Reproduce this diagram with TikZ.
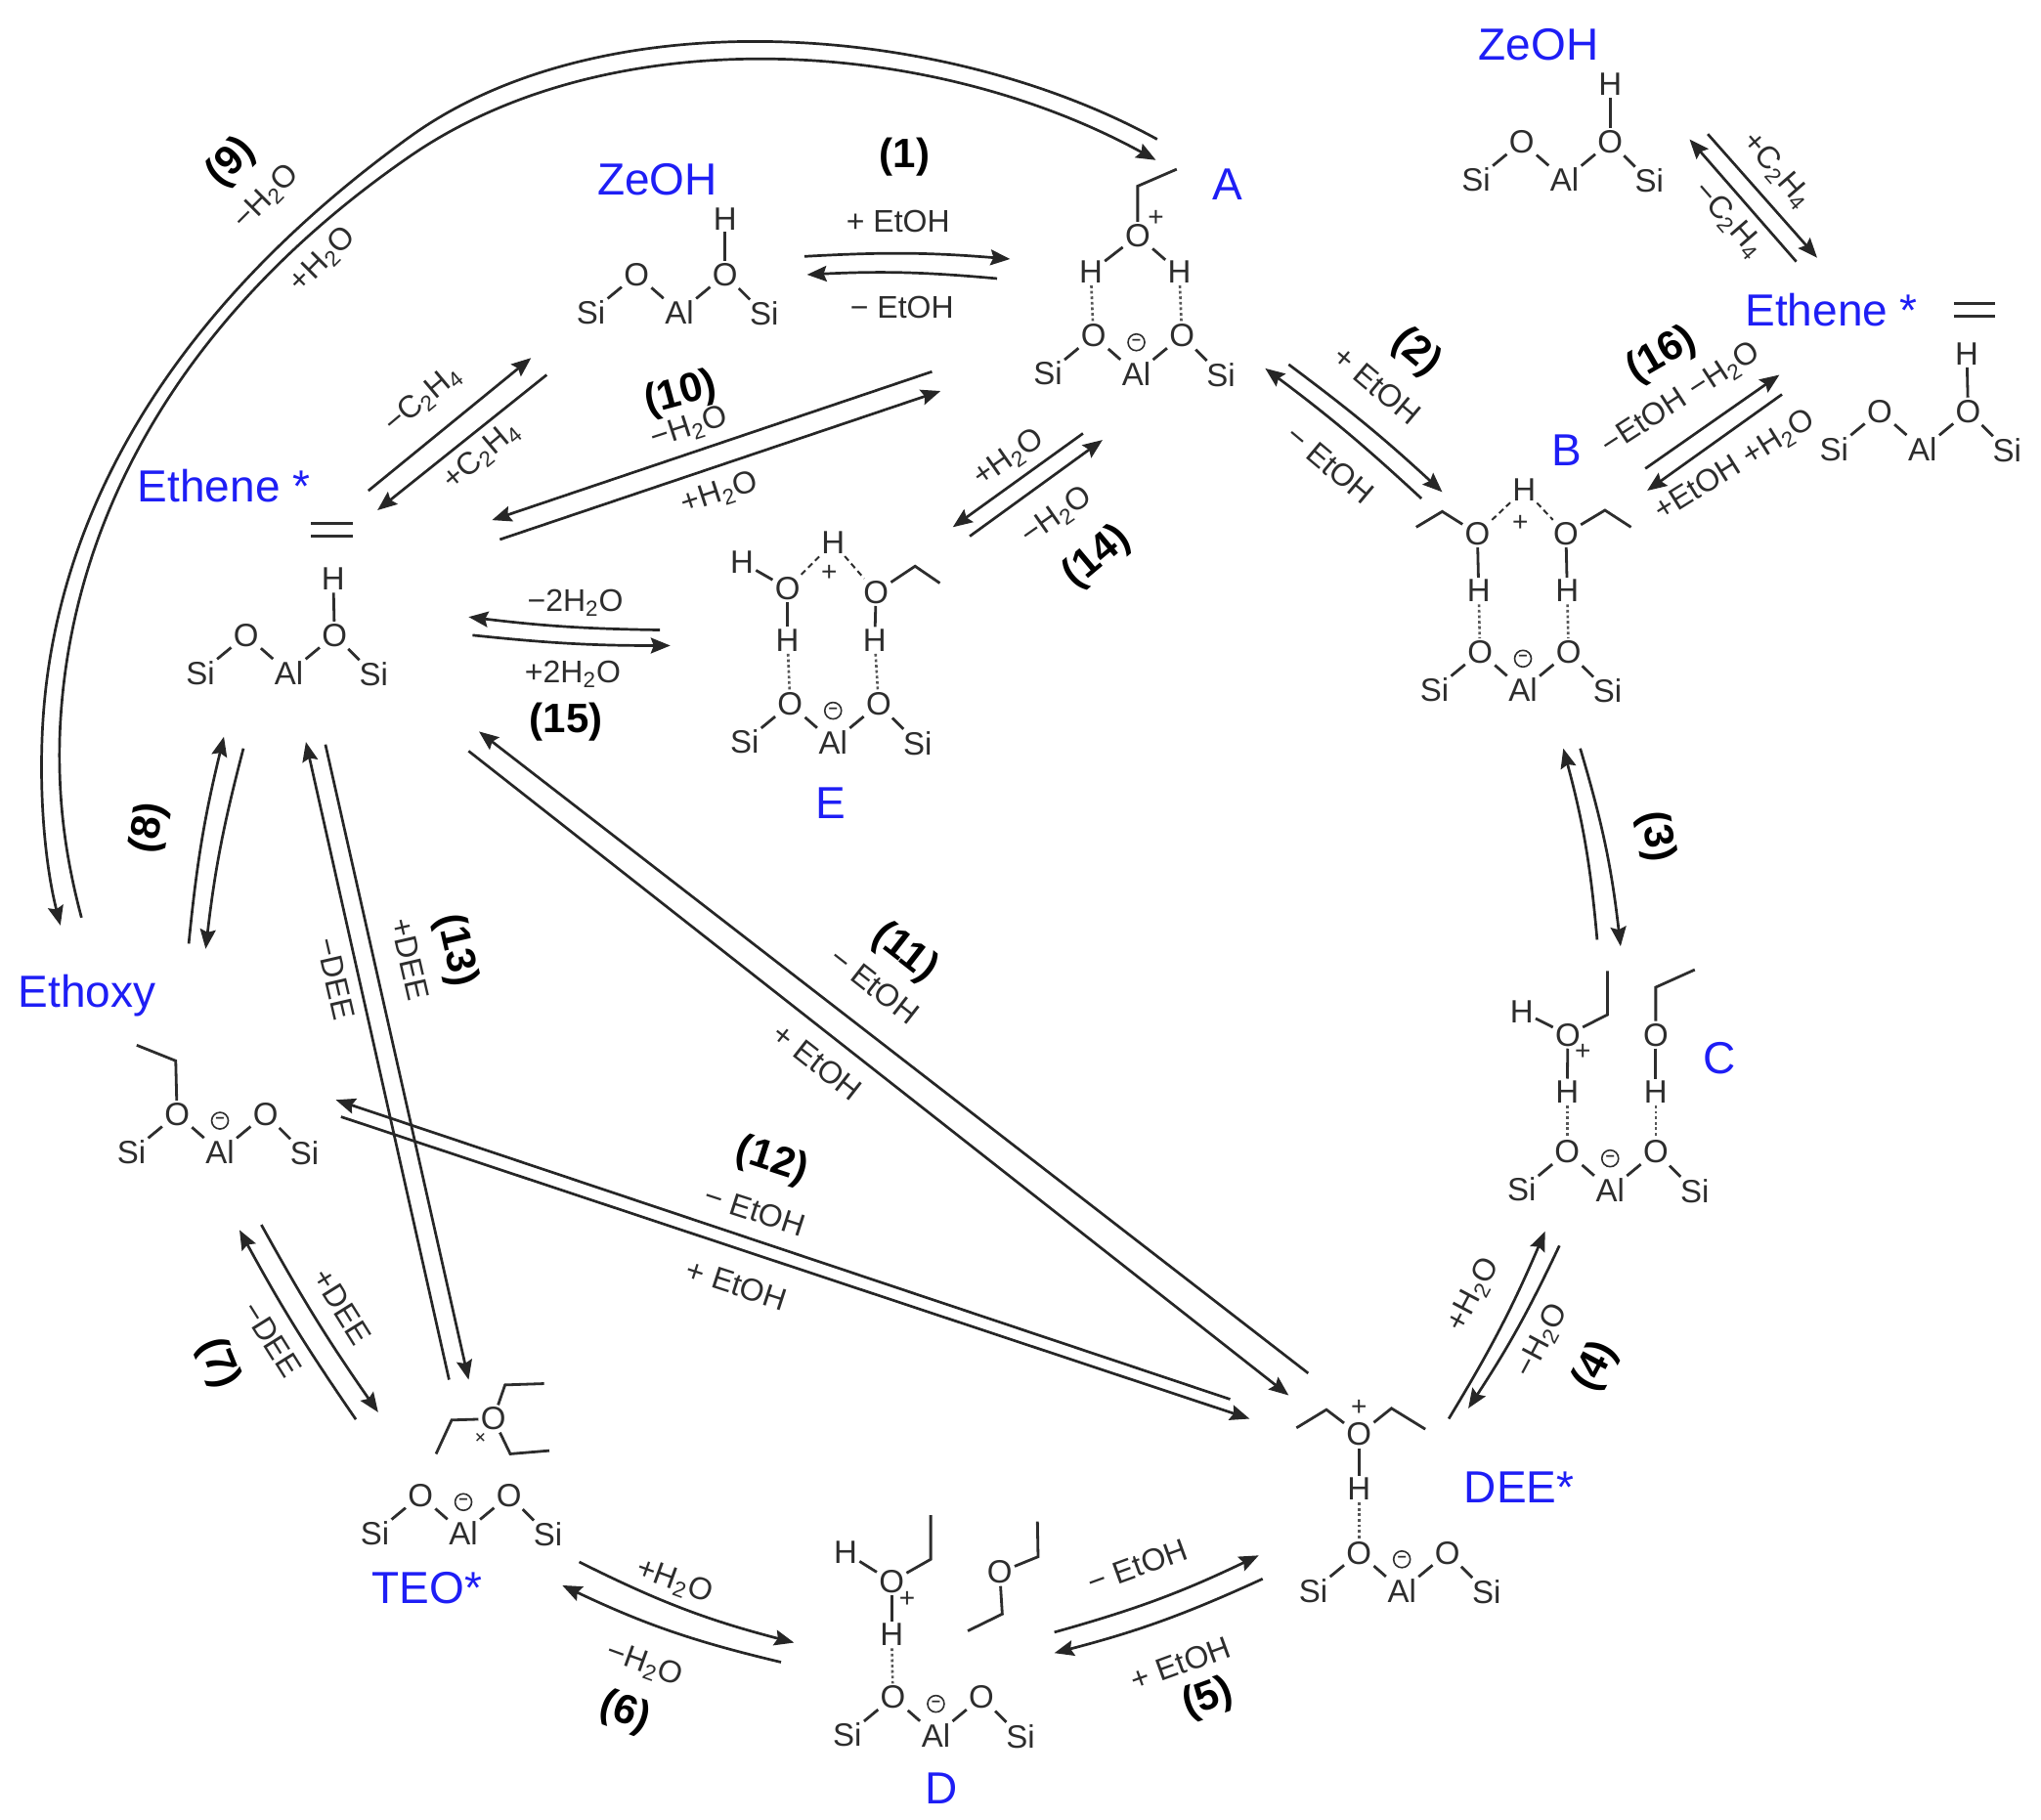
\documentclass[tikz,border=0pt]{standalone}
\usepackage{fontspec}
\setmainfont{Liberation Sans}
\usetikzlibrary{arrows.meta}
\definecolor{ink}{RGB}{45,45,45}
\definecolor{lblue}{RGB}{30,30,245}
\tikzset{
  atom/.style={font=\fontsize{16.5}{18}\selectfont,text=ink,inner sep=1pt},
  bond/.style={draw=ink,line width=1.4pt},
  hbond/.style={draw=ink!80,line width=1.3pt,dash pattern=on 1.4pt off 1.4pt},
  hdash/.style={draw=ink,line width=1pt,dash pattern=on 3pt off 2pt},
  plusq/.style={font=\fontsize{14}{14}\selectfont,text=ink,inner sep=0pt},
  minusq/.style={circle,draw=ink,line width=.8pt,minimum size=8.5pt,inner sep=0pt,font=\fontsize{8}{8}\selectfont\bfseries,text=ink},
  rxn/.style={draw=black!85,line width=1.35pt,-{Stealth[length=10pt,width=8pt,inset=1.5pt]}},
  smalllab/.style={font=\fontsize{16}{18}\selectfont,text=ink,inner sep=0pt},
  numlab/.style={font=\fontsize{21}{24}\selectfont\bfseries,text=black,inner sep=0pt},
  bluelab/.style={font=\fontsize{23}{26}\selectfont,text=lblue,inner sep=0pt},
}
\newcommand\zeo[3]{\begin{scope}[shift={(#2,#3)}]
  \node[atom] (#1si1) at (-68,0) {Si};
  \node[atom] (#1o1) at (-33,-29) {O};
  \node[atom] (#1al) at (0,0) {Al};
  \node[atom] (#1o2) at (35,-29) {O};
  \node[atom] (#1si2) at (65,1) {Si};
  \draw[bond] (#1si1)--(#1o1);\draw[bond] (#1o1)--(#1al);
  \draw[bond] (#1al)--(#1o2);\draw[bond] (#1o2)--(#1si2);
\end{scope}}
\newcommand\zeoc[3]{\zeo{#1}{#2}{#3}\node[minusq] (#1q) at (#2,#3-24) {−};}
\newcommand\atm[4]{\node[atom] (#1) at (#2,#3) {#4};}
\newcommand\chg[3]{\node[plusq] (#1) at (#2,#3) {+};}
\newcommand\ethyl[4]{\coordinate (#1a) at (#3); \coordinate (#1b) at (#4);\draw[bond,line join=miter] (#2)--(#1a)--(#1b);}
\newcommand\rarr[4]{\coordinate (#1s) at (#2);\coordinate (#1e) at (#3);\draw[rxn] (#1s) to[bend left=#4] (#1e);}
\newcommand\lab[5]{\node[smalllab,rotate=#4] (#1) at (#2,#3) {#5};}
\newcommand\nlab[5]{\node[numlab,rotate=#4] (#1) at (#2,#3) {#5};}
\newcommand\blab[4]{\node[bluelab] (#1) at (#2,#3) {#4};}
\newcommand\water{H\textsubscript{2}O}
\newcommand\ethene{C\textsubscript{2}H\textsubscript{4}}
\newcommand\dbl[3]{\coordinate (#1l) at (#2-16,#3-5);\coordinate (#1r) at (#2+16,#3-5);\coordinate (#1L) at (#2-16,#3+5);\coordinate (#1R) at (#2+16,#3+5);\draw[bond] (#1l)--(#1r);\draw[bond] (#1L)--(#1R);}
\begin{document}
\begin{tikzpicture}[x=0.66582pt,y=-0.66582pt]
\useasboundingbox (0,0) rectangle (1568,1398.2);
% --- blue labels
\blab{bZ1}{1182}{34}{ZeOH}
\blab{bZ2}{505}{138}{ZeOH}
\blab{bA}{943}{142}{A}
\blab{bEr}{1407}{238}{Ethene *}
\blab{bB}{1204}{346}{B}
\blab{bEl}{172}{373}{Ethene *}
\blab{bE}{638}{617}{E}
\blab{bEx}{67}{765}{Ethoxy}
\blab{bC}{1321}{813}{C}
\blab{bDEE}{1167}{1143}{DEE*}
\blab{bTEO}{328}{1220}{TEO*}
\blab{bD}{723}{1374}{D}
% --- top right ZeOH
\zeo{zt}{1202}{138}
\atm{tH}{1237}{65}{H}\draw[bond] (zto2)--(tH);
% --- middle ZeOH
\zeo{zm}{522}{240}
\atm{mH}{557}{168}{H}\draw[bond] (zmo2)--(mH);
% --- right ethene
\zeo{zr}{1477}{345}
\atm{rH}{1511}{272}{H}\draw[bond] (zro2)--(rH);
\dbl{rd}{1517}{238}
% --- left ethene
\zeo{zl}{222}{517}
\atm{lH}{256}{445}{H}\draw[bond] (zlo2)--(lH);
\dbl{ld}{255}{407}
% --- A
\zeoc{za}{873}{287}
\atm{aO}{874}{181}{O}
\atm{aH1}{838}{209}{H}\atm{aH2}{906}{209}{H}
\chg{aP}{888}{168}
\draw[bond] (aO)--(aH1);\draw[bond] (aO)--(aH2);
\draw[hbond] (aH1)--(zao1);\draw[hbond] (aH2)--(zao2);
\ethyl{aC}{aO}{874,143}{904,130}
% --- B
\zeoc{zb}{1170}{530}
\atm{bO1}{1135}{410}{O}\atm{bO2}{1203}{410}{O}
\atm{bH1}{1136}{454}{H}\atm{bH2}{1204}{454}{H}
\atm{bH0}{1171}{376}{H}
\chg{bP}{1168}{402}
\draw[bond] (bO1)--(bH1);\draw[bond] (bO2)--(bH2);
\draw[hbond] (bH1)--(zbo1);\draw[hbond] (bH2)--(zbo2);
\draw[hdash] (bO1)--(bH0);\draw[hdash] (bH0)--(bO2);
\ethyl{bCa}{bO1}{1108,393}{1088,405}
\ethyl{bCb}{bO2}{1233,392}{1253,405}
% --- C
\zeoc{zc}{1237}{914}
\atm{cO1}{1204.5}{795}{O}\atm{cO2}{1272}{795}{O}
\atm{cH1}{1204}{839}{H}\atm{cH2}{1272}{839}{H}
\atm{cH0}{1169}{777}{H}
\chg{cP}{1216}{808}
\draw[bond] (cH0)--(cO1);\draw[bond] (cO1)--(cH1);\draw[bond] (cO2)--(cH2);
\draw[hbond] (cH1)--(zco1);\draw[hbond] (cH2)--(zco2);
\ethyl{cCa}{cO1}{1235,779.5}{1235,746}
\ethyl{cCb}{cO2}{1272,758.5}{1302,745}
% --- DEE*
\zeoc{zd}{1077}{1222}
\atm{dO}{1044}{1102}{O}\atm{dH}{1044}{1144}{H}
\chg{dP}{1044}{1082}
\draw[bond] (dO)--(dH);\draw[hbond] (dH)--(zdo1);
\ethyl{dCa}{dO}{1019,1083}{996,1097}
\ethyl{dCb}{dO}{1069,1082}{1095,1098}
% --- D
\zeoc{ze}{719}{1333}
\atm{eO1}{685}{1215}{O}\atm{eH1}{685}{1256}{H}\atm{eH0}{649.6}{1192.8}{H}
\atm{eO2}{768}{1208}{O}
\chg{eP}{697}{1229}
\draw[bond] (eH0)--(eO1);\draw[bond] (eO1)--(eH1);\draw[hbond] (eH1)--(zeo1);
\ethyl{eCa}{eO1}{715,1198}{715,1164}
\ethyl{eCb}{eO2}{797.5,1196}{797,1169}
\ethyl{eCc}{eO2}{770,1240}{743.5,1253}
% --- TEO*
\zeoc{zf}{356}{1178}
\atm{fO}{379}{1090}{O}
\node[plusq,rotate=45] (fP) at (370,1105) {\fontsize{11}{11}\selectfont +};
\ethyl{fCa}{fO}{388,1064}{418,1063}
\ethyl{fCb}{fO}{347,1091}{335,1117}
\ethyl{fCc}{fO}{392,1117}{422,1114.5}
% --- Ethoxy
\zeoc{zg}{169}{885}
\ethyl{gC}{zgo1}{135,815}{105,803}
% --- E
\zeoc{zh}{640}{570}
\atm{hO1}{605}{452}{O}\atm{hO2}{673}{455}{O}
\atm{hH1}{605}{492}{H}\atm{hH2}{672}{492}{H}
\atm{hH3}{570}{432}{H}\atm{hH0}{640}{417}{H}
\chg{hP}{637}{440}
\draw[bond] (hH3)--(hO1);\draw[bond] (hO1)--(hH1);\draw[bond] (hO2)--(hH2);
\draw[hbond] (hH1)--(zho1);\draw[hbond] (hH2)--(zho2);
\draw[hdash] (hO1)--(hH0);\draw[hdash] (hH0)--(hO2);
\ethyl{hC}{hO2}{703,435}{722,448}
% --- (1)
\rarr{r1a}{618,197}{776,199}{4}\rarr{r1b}{766,214}{620,211}{-4}
\lab{l1a}{690}{170}{0}{+ EtOH}\lab{l1b}{693}{236}{0}{− EtOH}\nlab{n1}{695}{121}{0}{(1)}
% --- (2)
\rarr{r2a}{990,280}{1108,378}{3}\rarr{r2b}{1092,383}{972,283}{-3}
\lab{l2a}{1058}{296}{-40}{+ EtOH}\lab{l2b}{1022}{357}{-40}{− EtOH}\nlab{n2}{1088}{271}{-40}{(2)}
% --- (3)
\rarr{r3a}{1227,722}{1201,575}{-5}\rarr{r3b}{1214,575}{1245,727}{5}
\nlab{n3}{1272}{643}{-80}{(3)}
% --- (4)
\rarr{r4a}{1113,1090}{1187,946}{-4}\rarr{r4b}{1198,957}{1128,1082}{4}
\lab{l4a}{1132}{995}{62}{+\water}\lab{l4b}{1185}{1030}{62}{−\water}\nlab{n4}{1226}{1050}{62}{(4)}
% --- (5)
\rarr{r5a}{810,1254}{967,1195}{-5}\rarr{r5b}{970,1213}{810,1270}{5}
\lab{l5a}{874}{1203}{20}{− EtOH}\lab{l5b}{907}{1278}{20}{+ EtOH}\nlab{n5}{928}{1305}{20}{(5)}
% --- (6)
\rarr{r6a}{445,1200}{610,1262}{-6}\rarr{r6b}{600,1277}{432,1218}{6}
\lab{l6a}{518}{1215}{-20}{+\water}\lab{l6b}{495}{1279}{-20}{−\water}\nlab{n6}{480}{1316}{-20}{(6)}
% --- (7)
\rarr{r7a}{273.4,1090.5}{184,945}{3}\rarr{r7b}{200.8,941}{290.5,1085}{-3}
\lab{l7a}{263}{1004}{-58}{+DEE}\lab{l7b}{209}{1029}{-58}{−DEE}\nlab{n7}{167.7}{1047.6}{-68}{(7)}
% --- (8)
\rarr{r8a}{145,725}{172,566}{4}\rarr{r8b}{187,575}{158,729}{-4}
\nlab{n8}{115}{636}{80}{(8)}
% --- (9)
\coordinate (r9as) at (889,107);\coordinate (r9ae) at (46.4,711);
\coordinate (r9bs) at (62.6,705);\coordinate (r9be) at (888,123);
\draw[rxn] (r9as) .. controls (723,15.8) and (462,-1.1) .. (315,105)
  .. controls (135,235) and (40,393) .. (32.5,563)
  .. controls (30,620) and (36,670) .. (r9ae);
\draw[rxn] (r9bs) .. controls (52,665) and (44,620) .. (46,563)
  .. controls (53,393) and (145.4,237) .. (315,120)
  .. controls (469.4,13.5) and (715.6,28.2) .. (r9be);
\lab{l9a}{205}{152}{45}{−\water}\lab{l9b}{248}{200}{45}{+\water}\nlab{n9}{178}{125}{45}{(9)}
% --- (10)
\rarr{r10a}{716,285.5}{378,399.6}{0}\rarr{r10b}{384,414.5}{722.6,300.4}{0}
\lab{l10a}{529.6}{329}{18}{−\water}\lab{l10b}{553}{379}{18}{+\water}\nlab{n10}{523}{303}{15}{(10)}
% --- C2H4 left
\rarr{rla}{283,377}{408,275}{0}\rarr{rlb}{420,288}{290,392}{0}
\lab{lla}{325}{307}{40}{−\ethene}\lab{llb}{370}{350}{40}{+\ethene}
% --- (11)
\rarr{r11a}{360,577}{990,1072}{0}\rarr{r11b}{1005,1055}{368,562}{0}
\lab{l11a}{672}{757}{-38}{− EtOH}\lab{l11b}{628}{816}{-38}{+ EtOH}\nlab{n11}{695}{732}{-38}{(11)}
% --- (12)
\rarr{r12a}{945,1075}{258,845}{0}\rarr{r12b}{262,858}{960,1090}{0}
\lab{l12a}{580}{930}{-18}{− EtOH}\lab{l12b}{566}{987}{-18}{+ EtOH}\nlab{n12}{593}{892}{-18}{(12)}
% --- (13)
\rarr{r13a}{345,1060}{235,570}{0}\rarr{r13b}{250,572}{360,1060}{0}
\lab{l13a}{315}{737}{-77}{+DEE}\lab{l13b}{258}{752}{-77}{−DEE}\nlab{n13}{350}{730}{-77}{(13)}
% --- (14)
\rarr{r14a}{832,333}{732,405}{0}\rarr{r14b}{745,412}{847,338}{0}
\lab{l14a}{775}{352}{35}{+\water}\lab{l14b}{812}{397}{35}{−\water}\nlab{n14}{843}{428}{40}{(14)}
% --- (15)
\rarr{r15a}{507,484}{360,474}{3}\rarr{r15b}{363,488}{515,496}{-3}
\lab{l15a}{442}{463}{0}{−2\water}\lab{l15b}{440}{518}{0}{+2\water}\nlab{n15}{435}{555}{0}{(15)}
% --- (16)
\rarr{r16a}{1264,360}{1367,288}{0}\rarr{r16b}{1369,303}{1265.4,377}{0}
\lab{l16a}{1291.7}{306.6}{33}{−EtOH −\water}\lab{l16b}{1333}{358}{32}{+EtOH +\water}\nlab{n16}{1276.7}{272.8}{30}{(16)}
% --- top right C2H4
\rarr{rta}{1380,201}{1298,107}{0}\rarr{rtb}{1312,103}{1396,198}{0}
\lab{lta}{1365}{131}{-49}{+\ethene}\lab{ltb}{1328}{169}{-49}{−\ethene}
\end{tikzpicture}
\end{document}
